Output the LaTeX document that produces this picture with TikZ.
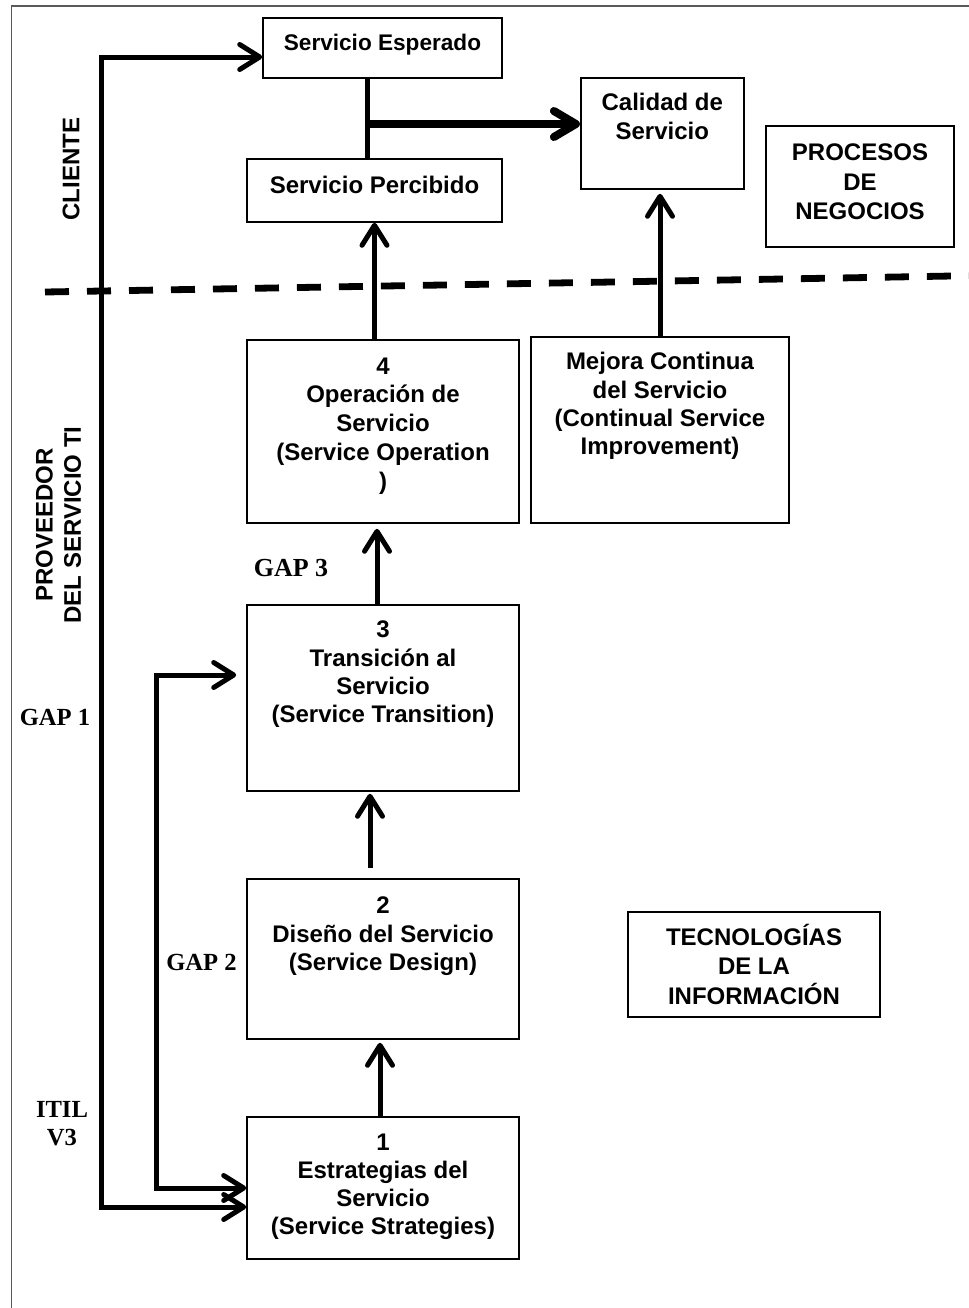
\documentclass[tikz,border=0pt]{standalone}
\usepackage{fontspec}
\setmainfont{Liberation Sans}
\newfontfamily\tnr{Liberation Serif}
\usetikzlibrary{arrows.meta}
% centred lines whose baseline is that of the first line
\newcommand{\boxtext}[1]{\begin{tabular}[t]{@{}c@{}}#1\end{tabular}}
\begin{document}
\begin{tikzpicture}[x=0.5pt,y=-0.5pt,
  barb/.tip={Straight Barb[length=10pt,width=12.5pt,round]},
  fatbarb/.tip={Straight Barb[length=11pt,width=13pt,round]},
  box/.style={draw=black,line width=0.8pt,inner sep=0pt},
  txt/.style={anchor=base,inner sep=0pt,font=\fontsize{12}{14.2}\selectfont\bfseries},
  lab/.style={inner sep=0pt,align=center,font=\fontsize{12}{14.2}\selectfont\bfseries},
  gap/.style={inner sep=0pt,align=center,font=\tnr\fontsize{12.3}{14}\selectfont\bfseries},
  conn/.style={line width=2.5pt},
  arr/.style={line width=2.5pt,-barb},
  darr/.style={line width=2.5pt,barb-barb},
  fatarr/.style={line width=4pt,-fatbarb},
  sep/.style={line width=3.4pt,dash pattern=on 12pt off 9pt},
  frame/.style={line width=0.6pt,draw=black!65}]
\useasboundingbox (0,0) rectangle (969,1308);

% outer frame (top and left edges)
\coordinate (f1) at (11.5,1308);
\coordinate (f2) at (11.5,6);
\coordinate (f3) at (969,6);
\draw[frame] (f1) -- (f2) -- (f3);

% client side
\node[box,minimum width=119.5pt,minimum height=30pt] (esp) at (382.5,48) {};
\node[txt,font=\fontsize{11.3}{14}\selectfont\bfseries] (espT) at (382.5,50.6) {Servicio Esperado};
\node[box,minimum width=127.5pt,minimum height=31.5pt] (perc) at (374.5,190.5) {};
\node[txt] (percT) at (374.5,193.6) {Servicio Percibido};
\node[box,minimum width=81.6pt,minimum height=55.5pt] (cal) at (662.3,133.5) {};
\node[txt] (calT) at (662.3,110.6) {\boxtext{Calidad de\\Servicio}};
\node[box,minimum width=94pt,minimum height=60.5pt] (proc) at (860,186.5) {};
\node[txt,font=\fontsize{12}{14.7}\selectfont\bfseries] (procT) at (860,160.6) {\boxtext{PROCESOS\\DE\\NEGOCIOS}};

% provider side
\node[box,minimum width=136pt,minimum height=91.5pt] (op) at (383,431.5) {};
\node[txt,font=\fontsize{12}{14.4}\selectfont\bfseries] (opT) at (383,374) {\boxtext{4\\Operación de\\Servicio\\(Service Operation\\)}};
\node[box,minimum width=129pt,minimum height=93pt] (mej) at (660,430) {};
\node[txt] (mejT) at (660,369.6) {\boxtext{Mejora Continua\\del Servicio\\(Continual Service\\Improvement)}};
\node[box,minimum width=136pt,minimum height=93pt] (tra) at (383,698) {};
\node[txt] (traT) at (383,637.6) {\boxtext{3\\Transición al\\Servicio\\(Service Transition)}};
\node[box,minimum width=136pt,minimum height=80pt] (dis) at (383,959) {};
\node[txt] (disT) at (383,913.6) {\boxtext{2\\Diseño del Servicio\\(Service Design)}};
\node[box,minimum width=136pt,minimum height=71pt] (est) at (383,1188) {};
\node[txt,font=\fontsize{12}{14}\selectfont\bfseries] (estT) at (383,1150.6) {\boxtext{1\\Estrategias del\\Servicio\\(Service Strategies)}};
\node[box,minimum width=126pt,minimum height=52.5pt] (tec) at (754,964.5) {};
\node[txt,font=\fontsize{12}{14.5}\selectfont\bfseries] (tecT) at (754,945.6) {\boxtext{TECNOLOGÍAS\\DE LA\\INFORMACIÓN}};

% side labels
\node[lab,rotate=90] (cli) at (71,169) {CLIENTE};
\node[lab,rotate=90] (prov) at (58.5,525) {PROVEEDOR\\DEL SERVICIO TI};
\node[gap] (gap1) at (55,717) {GAP 1};
\node[gap] (gap2) at (201.5,962) {GAP 2};
\node[gap,font=\tnr\fontsize{13}{14}\selectfont\bfseries] (gap3) at (291,568) {GAP 3};
\node[gap] (itil) at (62,1124) {ITIL\\V3};

% boundary between client and provider
\coordinate (dl) at (45,292);
\coordinate (dr) at (969,275.7);
\draw[sep] (dl) -- (dr);

% expected vs perceived service feeding quality
\coordinate (jn) at (367,124);
\draw[conn] (esp.south -| jn) -- (perc.north -| jn);
\draw[fatarr] (jn) -- (cal.west |- jn);

% lifecycle arrows
\draw[arr] (perc.south |- op.north) -- (perc.south);
\draw[arr,shorten >=2pt] (mej.north) -- (mej.north |- cal.south);
\draw[arr,shorten >=2.5pt] ([xshift=-3pt]tra.north) -- ([xshift=-3pt]op.south);
\draw[arr,shorten <=5pt,shorten >=1pt] ([xshift=-6.5pt]dis.north) -- ([xshift=-6.5pt]tra.south);
\draw[arr,shorten >=1.5pt] ([xshift=-1.5pt]est.north) -- ([xshift=-1.5pt]dis.south);

% gap loops
\coordinate (g1) at (101.7,600);
\draw[darr] ([yshift=-4.5pt]esp.west) -| (g1) |- ([yshift=-9.5pt]est.west);
\coordinate (g2) at (156,900);
\draw[darr] ([xshift=-5pt,yshift=11.5pt]tra.west) -| (g2) |- (est.west);
\end{tikzpicture}
\end{document}
